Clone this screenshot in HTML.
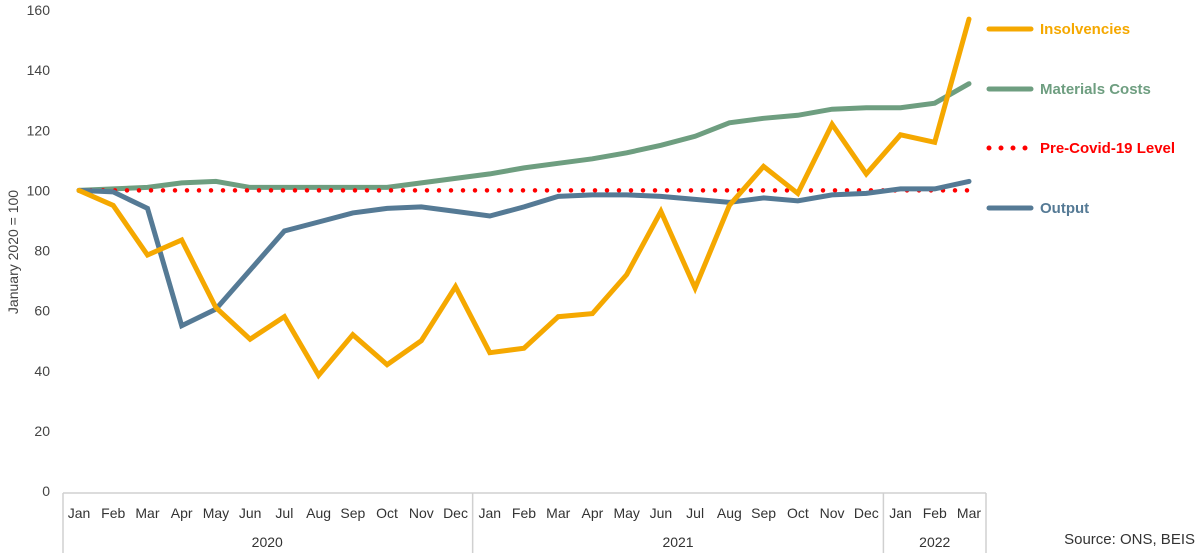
<!DOCTYPE html>
<html><head><meta charset="utf-8"><style>
body{margin:0;background:#fff;}
svg{display:block;font-family:"Liberation Sans",sans-serif;}
</style></head><body>
<svg id="chart" width="1200" height="553"></svg>
<script>
const months=["Jan","Feb","Mar","Apr","May","Jun","Jul","Aug","Sep","Oct","Nov","Dec","Jan","Feb","Mar","Apr","May","Jun","Jul","Aug","Sep","Oct","Nov","Dec","Jan","Feb","Mar"];
const years=["2020","2021","2022"];
const yearSpans=[12,12,3];
const insolvencies=[100,95,78.5,83.5,61,50.5,58,38.5,52,42,50,68,46,47.5,58,59,72,93,67.5,95,108,99,122,105.5,118.5,116,157];
const materials=[100,100.5,101,102.5,103,101,101,101,101,101,102.5,104,105.5,107.5,109,110.5,112.5,115,118,122.5,124,125,127,127.5,127.5,129,135.5];
const output=[100,99.5,94,55,60.5,73.5,86.5,89.5,92.5,94,94.5,93,91.5,94.5,98,98.5,98.5,98,97,96,97.5,96.5,98.5,99,100.5,100.5,103];
const preCovid=[100,100,100,100,100,100,100,100,100,100,100,100,100,100,100,100,100,100,100,100,100,100,100,100,100,100,100];
const yTicks=[0,20,40,60,80,100,120,140,160];
const legendLabels=["Insolvencies","Materials Costs","Pre-Covid-19 Level","Output"];

const NS="http://www.w3.org/2000/svg";
const svg=document.getElementById('chart');
const x=i=>79+i*34.23;
const y=v=>491-v*3.006;
function mk(t,a,p){const e=document.createElementNS(NS,t);for(const k in a)e.setAttribute(k,a[k]);(p||svg).appendChild(e);return e;}

yTicks.forEach(t=>{
  const e=mk('text',{x:50,y:y(t)+5,'text-anchor':'end','font-size':14,fill:'#444'});
  e.textContent=t;
  
  
});
const yt=mk('text',{x:0,y:0,transform:'translate(18,252) rotate(-90)','text-anchor':'middle','font-size':14,fill:'#444'});
yt.textContent='January 2020 = 100';



const g=mk('g',{stroke:'#d0d0d0','stroke-width':1.5,fill:'none'});


const bt=493;
mk('line',{x1:63,y1:bt,x2:986,y2:bt},g);
mk('line',{x1:63,y1:bt,x2:63,y2:553},g);
let acc=0;
yearSpans.forEach((s,k)=>{
  acc+=s;
  const xr=k<yearSpans.length-1?(x(acc-1)+x(acc))/2:986;
  mk('line',{x1:xr,y1:bt,x2:xr,y2:553},g);
});
months.forEach((m,i)=>{
  const e=mk('text',{x:x(i),y:518,'text-anchor':'middle','font-size':14,fill:'#333'});
  e.textContent=m;
  
  
});
acc=0;
years.forEach((yr,k)=>{
  const mid=(x(acc)+x(acc+yearSpans[k]-1))/2;
  acc+=yearSpans[k];
  const e=mk('text',{x:mid,y:547,'text-anchor':'middle','font-size':14,fill:'#333'});
  e.textContent=yr;
  
  
});

function series(data,color,name,dotted){
  const d=data.map((v,i)=>(i?'L':'M')+x(i).toFixed(1)+','+y(v).toFixed(1)).join(' ');
  const a={d:d,fill:'none',stroke:color,'stroke-width':dotted?4.5:5,'stroke-linejoin':'miter','stroke-linecap':'round'};
  if(dotted){a['stroke-dasharray']='0 12';}
  const p=mk('path',a);
  
  
}
series(materials,'#6E9E80','materials-costs-line');
series(preCovid,'#FF0000','pre-covid-level-line',true);
series(output,'#557A95','output-line');
series(insolvencies,'#F5A800','insolvencies-line');

const lc=['#F5A800','#6E9E80','#FF0000','#557A95'];
const ly=[29,89,148,208];
legendLabels.forEach((l,i)=>{
  const a={x1:989,y1:ly[i],x2:1031,y2:ly[i],stroke:lc[i],'stroke-width':5,'stroke-linecap':'round'};
  if(i===2){a['stroke-dasharray']='0 12';}
  const ln=mk('line',a);
  
  
  const t=mk('text',{x:1040,y:ly[i]+5,'font-size':15,'font-weight':'bold',fill:lc[i]});
  t.textContent=l;
  
  
});
const src=mk('text',{x:1195,y:544,'text-anchor':'end','font-size':15,fill:'#333'});
src.textContent='Source: ONS, BEIS';


</script>
</body></html>
